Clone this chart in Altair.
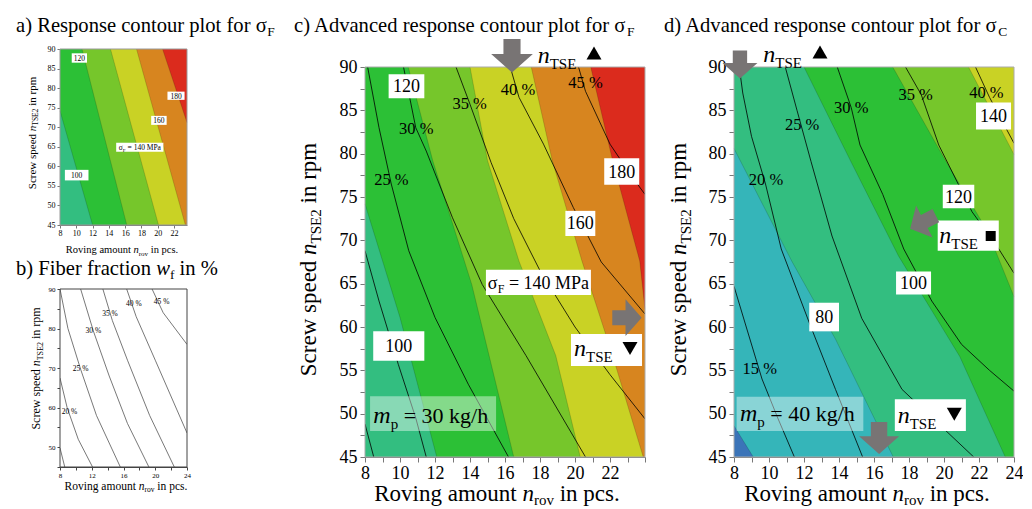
import altair as alt
import pandas as pd

SERIF = "Liberation Serif"

# ---------------- values ----------------
A_X_TICKS = [8, 10, 12, 14, 16, 18, 20, 22]
A_Y_TICKS = [45, 50, 55, 60, 65, 70, 75, 80, 85, 90]
B_X_TICKS = [8, 10, 12, 14, 16, 18, 20, 22, 24]
B_Y_TICKS = [45, 50, 55, 60, 65, 70, 75, 80, 85, 90]
CD_X_TICKS = [8, 9, 10, 11, 12, 13, 14, 15, 16, 17, 18, 19, 20, 21, 22, 23, 24]
CD_Y_TICKS = [45, 47.5, 50, 52.5, 55, 57.5, 60, 62.5, 65, 67.5, 70, 72.5, 75,
              77.5, 80, 82.5, 85, 87.5, 90]

# band boundaries (n_rov, n_TSE2); the next band lies right of the boundary
A_B100 = [(8, 90), (8, 74.2), (12.0, 45)]
A_B120 = [(10.7, 90), (16.2, 45)]
A_B140 = [(14.2, 90), (20.1, 45)]
A_B160 = [(17.4, 90), (23.4, 45)]
A_B180 = [(20.6, 90), (23.6, 71.2)]

C_B100 = [(8, 90), (8, 74.2), (10.0, 61.1), (12.1, 45)]
C_B120 = [(10.47, 90), (11.87, 79.2), (14.1, 64.9), (16.5, 45)]
C_B140 = [(14.0, 90), (15.0, 79.2), (16.8, 67.6), (18.9, 56.7), (20.3, 45)]
C_B160 = [(17.5, 90), (18.7, 79.2), (20.4, 67.6), (22.15, 56.7), (23.9, 45)]
C_B180 = [(20.9, 90), (22.15, 79.2), (23.7, 67.6), (24, 62)]

D_B60 = [(8, 90), (8, 48.6), (9.1, 45)]
D_B80 = [(8, 90), (8, 80.6), (11.3, 67.6), (13.8, 58.6), (17.1, 45)]
D_B100 = [(12.0, 90), (14.7, 79), (17.4, 68.2), (20.9, 56.6), (23.5, 45)]
D_B120 = [(17.07, 90), (20, 79.5), (22.5, 71), (24, 63.5)]
D_B140 = [(21.4, 90), (24, 79.9)]

# fibre fraction contour lines
B_WF = {
    "15": [(8, 49.8), (8.6, 45)],
    "20": [(8, 67.5), (8.9, 60), (10.3, 52), (12.1, 45)],
    "25": [(8.0, 90), (9.0, 80), (10.6, 69.7), (12.6, 58), (15.6, 45)],
    "30": [(10.6, 90), (12.2, 79.4), (14.2, 68), (16.5, 56), (19.2, 45)],
    "35": [(13.4, 90), (14.6, 82), (16.5, 72), (19.3, 58), (22.4, 45)],
    "40": [(16.4, 90), (17.6, 83), (20, 72), (24, 53.6)],
    "45": [(19.6, 90), (21, 84), (24, 76)],
}
C_WF = {
    "15": [(8, 48.8), (8.5, 45)],
    "20": [(8, 68.8), (8.8, 63), (9.9, 55.7), (10.9, 49.5), (11.5, 45)],
    "25": [(8.15, 90), (8.8, 83), (9.5, 76.5), (10.5, 68.8), (12.0, 61.1), (13.9, 53.4), (16.2, 45)],
    "30": [(10.2, 90), (10.9, 83), (11.5, 80.3), (13.0, 72.6), (14.7, 64.9), (17.2, 56.7), (20.6, 45)],
    "35": [(13.2, 90), (14.0, 85.7), (15.2, 79), (16.5, 72.5), (18.0, 66.5), (20.0, 60), (22.0, 54.5), (24, 49.4)],
    "40": [(16.3, 90), (16.8, 86.5), (18.2, 81.1), (19.9, 73.8), (21.5, 67.5), (24, 61.5)],
    "45": [(20.2, 90), (20.6, 87.2), (22.0, 81.1), (23.2, 77.5), (24, 75.3)],
}
D_WF = {
    "15": [(8, 64.7), (8.7, 60), (9.6, 54), (10.5, 49.5), (11.45, 45)],
    "20": [(8.3, 90), (8.5, 87), (9.0, 82), (9.8, 76.5), (10.7, 69), (12.3, 60.5), (13.8, 52.8), (15.35, 45)],
    "25": [(10.93, 90), (11.6, 85), (12.4, 79.1), (13.6, 70.5), (15.3, 61), (17.6, 52.8), (21.7, 45)],
    "30": [(13.9, 90), (14.7, 85.3), (15.2, 81), (16.5, 75.3), (17.7, 69), (19.3, 63), (21.0, 58), (22.6, 55), (24, 52.6)],
    "35": [(17.8, 90), (18.7, 86.8), (19.7, 81), (21.6, 73.3), (23.1, 69.1), (24, 66.2)],
    "40": [(21.8, 90), (22.6, 86.5), (24, 81.2)],
}

# text labels: (n_rov, n_TSE2, text)
B_PCT = [(9.2, 59, "20 %"), (10.6, 69.7, "25 %"), (12.2, 79.4, "30 %"),
         (14.3, 83.8, "35 %"), (17.3, 86.1, "40 %"), (20.8, 86.6, "45 %")]
C_PCT = [(9.51, 77.0, "25 %"), (10.93, 82.8, "30 %"), (13.98, 85.7, "35 %"),
         (16.74, 87.4, "40 %"), (20.6, 88.1, "45 %")]
D_PCT = [(9.47, 55.1, "15 %"), (9.83, 77.0, "20 %"), (11.89, 83.3, "25 %"),
         (14.70, 85.3, "30 %"), (18.38, 86.8, "35 %"), (22.42, 87.0, "40 %")]

# white label boxes: (x1, x2, y1, y2, text)
A_BOX = [(9.44, 11.32, 86.5, 88.9, "120"), (21.2, 23.3, 77.0, 79.1, "180"),
         (19.2, 21.1, 70.6, 72.9, "160"), (14.9, 20.7, 63.7, 66.0, ""),
         (8.6, 11.5, 56.4, 59.1, "100")]
C_BOX = [(9.35, 11.39, 86.4, 89.16, "120"), (21.67, 23.67, 76.4, 79.46, "180"),
         (19.45, 21.16, 70.5, 73.4, "160"), (14.91, 20.91, 63.7, 66.6, ""),
         (8.47, 11.39, 56.1, 59.5, "100"), (19.77, 23.83, 55.5, 59.2, "")]
D_BOX = [(21.83, 23.83, 82.8, 85.9, "140"), (19.93, 21.73, 73.7, 76.4, "120"),
         (19.64, 23.13, 68.8, 72.3, ""), (17.26, 19.26, 63.75, 66.4, "100"),
         (12.3, 14.0, 59.5, 62.8, "80"), (17.19, 21.25, 48.0, 51.65, "")]
C_MP_BOX = [(8.29, 15.49, 48.0, 52.0)]
D_MP_BOX = [(8.15, 15.39, 48.0, 51.95)]

# grey arrows: (n_rov, n_TSE2, rotation)
C_ARROWS = [(16.4, 91.3, 0), (22.97, 61.07, 270)]
D_ARROWS = [(8.34, 90.3, 0), (16.29, 47.2, 0), (18.8, 72.1, 63)]

# ---------------- styles ----------------
TEAL, GREEN, LGREEN = "#33BE80", "#2CC036", "#76C62B"
YELLOW, ORANGE, RED = "#C9D225", "#D7851F", "#DB2B1D"
CYAN, BLUE = "#35B5B9", "#3B74B8"
GREY_ARROW = "#787474"
ARROW = "M-0.41,-0.8 L0.41,-0.8 L0.41,-0.08 L1,-0.08 L0,0.8 L-1,-0.08 L-0.41,-0.08 Z"
TITLE = 20.6

ONE = pd.DataFrame({"k": [0]})

TW = {' ': 250, '%': 833, '(': 333, ')': 333, '.': 250, '/': 278, '=': 564,
      'A': 722, 'C': 667, 'E': 611, 'F': 556, 'M': 889, 'P': 556, 'R': 667, 'S': 556, 'T': 611,
      'a': 444, 'b': 500, 'c': 444, 'd': 500, 'e': 444, 'f': 333, 'g': 500, 'h': 500, 'i': 278,
      'k': 500, 'l': 278, 'm': 778, 'n': 500, 'o': 500, 'p': 500, 'r': 333, 's': 389, 't': 278,
      'u': 500, 'v': 500, 'w': 722, 'σ': 560}
TWI = {'n': 500, 'm': 722, 'w': 667, 'p': 500}


def text_w(t, size, style):
    tot = 0
    for ch in t:
        if style == "italic" and ch in TWI:
            tot += TWI[ch]
        elif ch.isdigit():
            tot += 500
        else:
            tot += TW.get(ch, 500)
    return tot * size / 1000.0


def piece(t, px, py, size, style, angle):
    lead = len(t) - len(t.lstrip(" "))
    adv = lead * 250 * size / 1000.0
    if angle == 0:
        px += adv
    else:
        py -= adv
    return alt.Chart(ONE).mark_text(
        text=t.strip(" "), font=SERIF, fontSize=size, fontStyle=style, align="left",
        baseline="alphabetic", angle=angle, color="black"
    ).encode(x=alt.value(px), y=alt.value(py))


def rich(pieces, x, y, align="left", angle=0):
    full = [(p + (0,)) if len(p) == 3 else p for p in pieces]
    widths = [text_w(t, s, st) for (t, s, st, sh) in full]
    total = sum(widths)
    off = {"left": 0, "center": -total / 2, "right": -total}[align]
    out = []
    for (t, s, st, sh), w in zip(full, widths):
        if angle == 0:
            out.append(piece(t, x + off, y + sh, s, st, 0))
        else:
            out.append(piece(t, x + sh, y - off, s, st, angle))
        off += w
    return out


def sym(shape, x, y, size, color="black"):
    return alt.Chart(ONE).mark_point(shape=shape, filled=True, color=color, size=size,
                                     opacity=1, strokeWidth=0).encode(
        x=alt.value(x), y=alt.value(y))


def panel(xmax, w, h, yr, base, bands, wf, wf_color, xaxis, yaxis, frame_color,
          pct=None, pct_size=16, boxes=None, box_size=18, mp_box=None, arrows=None):
    xs = alt.Scale(domain=[8, xmax], range=[0, w], nice=False, zero=False)
    ys = alt.Scale(domain=[45, 90], range=yr, nice=False, zero=False)

    def X(f):
        return alt.X(f, type="quantitative", scale=xs, axis=xaxis, stack=None)

    def Y(f):
        return alt.Y(f, type="quantitative", scale=ys, axis=yaxis, stack=None)

    layers = []
    df0 = pd.DataFrame({"x": [8, 8], "y": [90, 45], "xr": [xmax, xmax]})
    layers.append(alt.Chart(df0).mark_area(orient="horizontal", color=base).encode(
        y=Y("y"), x=X("x"), x2="xr:Q"))
    lines = []
    for gi, (col, pts) in enumerate(bands):
        df = pd.DataFrame(pts, columns=["x", "y"])
        df["xr"] = xmax
        layers.append(alt.Chart(df).mark_area(orient="horizontal", color=col).encode(
            y=Y("y"), x=X("x"), x2="xr:Q"))
        p2 = list(pts)
        while len(p2) > 2 and p2[0][0] == 8 and p2[1][0] == 8:
            p2 = p2[1:]
        for i, (x, y) in enumerate(p2):
            lines.append({"x": x, "y": y, "i": i, "g": gi})
    if lines:
        layers.append(alt.Chart(pd.DataFrame(lines)).mark_line(
            color="#000000", opacity=0.22, strokeWidth=0.7).encode(
            x=X("x"), y=Y("y"), detail="g:N", order="i:Q"))
    rows = []
    for k, pts in wf.items():
        for i, (x, y) in enumerate(pts):
            rows.append({"x": x, "y": y, "i": i, "g": k})
    if rows:
        layers.append(alt.Chart(pd.DataFrame(rows)).mark_line(
            color=wf_color, strokeWidth=0.8, clip=True).encode(
            x=X("x"), y=Y("y"), detail="g:N", order="i:Q"))
    fr = pd.DataFrame({"x1": [8], "x2": [xmax], "y1": [45], "y2": [90]})
    layers.append(alt.Chart(fr).mark_rect(fillOpacity=0, stroke=frame_color, strokeWidth=1).encode(
        x=X("x1"), x2="x2:Q", y=Y("y1"), y2="y2:Q"))
    if pct:
        dfp = pd.DataFrame(pct, columns=["x", "y", "t"])
        layers.append(alt.Chart(dfp).mark_text(font=SERIF, fontSize=pct_size, color="black",
                                               baseline="middle", align="center").encode(
            x=X("x"), y=Y("y"), text="t:N"))
    if mp_box:
        dfm = pd.DataFrame(mp_box, columns=["x1", "x2", "y1", "y2"])
        layers.append(alt.Chart(dfm).mark_rect(color="white", opacity=0.42).encode(
            x=X("x1"), x2="x2:Q", y=Y("y1"), y2="y2:Q"))
    if boxes:
        dfb = pd.DataFrame(boxes, columns=["x1", "x2", "y1", "y2", "t"])
        dfb["xc"] = (dfb.x1 + dfb.x2) / 2
        dfb["yc"] = (dfb.y1 + dfb.y2) / 2
        layers.append(alt.Chart(dfb).mark_rect(color="white").encode(
            x=X("x1"), x2="x2:Q", y=Y("y1"), y2="y2:Q"))
        layers.append(alt.Chart(dfb).mark_text(font=SERIF, fontSize=box_size, color="black",
                                               baseline="middle", align="center", dy=1).encode(
            x=X("xc"), y=Y("yc"), text="t:N"))
    if arrows:
        for (x, y, ang), sz in arrows:
            d = pd.DataFrame({"x": [x], "y": [y]})
            layers.append(alt.Chart(d).mark_point(shape=ARROW, filled=True, color=GREY_ARROW,
                                                  opacity=1, size=sz, angle=ang, strokeWidth=0).encode(
                x=X("x"), y=Y("y")))
    return layers


def make_axis(values, size, expr=None, tick=5, pad=3, color="#777777"):
    kw = dict(values=values, title=None, grid=False, labelFont=SERIF, labelFontSize=size,
              labelColor="black", tickColor=color, domainColor=color, tickSize=tick,
              labelPadding=pad, labelFlush=False, labelOverlap=False)
    if expr:
        kw["labelExpr"] = expr
    return alt.Axis(**kw)


# ---------------- panel a ----------------
AW, AH, AXM = 127, 176, 23.6
a_layers = panel(AXM, AW, AH, [AH, 0], TEAL,
                 [(GREEN, A_B100), (LGREEN, A_B120), (YELLOW, A_B140), (ORANGE, A_B160), (RED, A_B180)],
                 {}, "black",
                 make_axis(A_X_TICKS, 8, tick=3, pad=1), make_axis(A_Y_TICKS, 8, tick=3, pad=2),
                 "#999999", boxes=A_BOX, box_size=7.5)
a_layers += rich([("σ", 7.5, "normal"), ("F", 5, "normal", 1.5), (" = 140 MPa", 7.5, "normal")],
                 79.8, 101.0, "center")
a_layers += rich([("a) Response contour plot for σ", TITLE, "normal"), ("F", 13.5, "normal", 4)], -44, -17)
a_layers += rich([("Roving amount ", 10.5, "normal"), ("n", 10.5, "italic"), ("rov", 7, "normal", 2.5),
                  (" in pcs.", 10.5, "normal")], 62, 204, "center")
a_layers += rich([("Screw speed ", 11, "normal"), ("n", 11, "italic"), ("TSE2", 7.5, "normal", 2.5),
                  (" in rpm", 11, "normal")], -24.5, 84, "center", 270)
a_layers.append(alt.Chart(ONE).mark_rule(color="white", strokeWidth=0.5).encode(
    x=alt.value(-59), x2=alt.value(-58.5), y=alt.value(-48), y2=alt.value(-48)))
A = alt.layer(*a_layers).properties(width=AW, height=AH)

# ---------------- panel b ----------------
BW, BH = 127, 178
b_layers = panel(24, BW, BH, [BH, 0], "white", [], B_WF, "#555555",
                 make_axis(B_X_TICKS, 7, "datum.value % 4 == 0 ? datum.label : ''", tick=3, pad=1, color="#444444"),
                 make_axis(B_Y_TICKS, 7, "datum.value % 10 == 0 ? datum.label : ''", tick=3, pad=2, color="#444444"),
                 "#444444", pct=B_PCT, pct_size=7.5)
b_layers += rich([("b) Fiber fraction ", TITLE, "normal"), ("w", TITLE, "italic"), ("f", 13.5, "normal", 4),
                  (" in %", TITLE, "normal")], -44, -14)
b_layers += rich([("Roving amount ", 11.5, "normal"), ("n", 11.5, "italic"), ("rov", 7.5, "normal", 2.5),
                  (" in pcs.", 11.5, "normal")], 66, 200.5, "center")
b_layers += rich([("Screw speed ", 12, "normal"), ("n", 12, "italic"), ("TSE2", 8, "normal", 2.5),
                  (" in rpm", 12, "normal")], -20, 79.5, "center", 270)
B = alt.layer(*b_layers).properties(width=BW, height=BH)

# ---------------- panel c ----------------
CW, CH = 280, 408
c_layers = panel(24, CW, CH, [CH, 18], TEAL,
                 [(GREEN, C_B100), (LGREEN, C_B120), (YELLOW, C_B140), (ORANGE, C_B160), (RED, C_B180)],
                 C_WF, "black",
                 make_axis(CD_X_TICKS, 18, "datum.value % 2 == 0 && datum.value < 23 ? datum.label : ''", tick=5, pad=2),
                 make_axis(CD_Y_TICKS, 18, "datum.value % 5 == 0 ? datum.label : ''", tick=5, pad=3),
                 "#aaaaaa", pct=C_PCT, pct_size=16.5, boxes=C_BOX, box_size=18, mp_box=C_MP_BOX,
                 arrows=[(C_ARROWS[0], 1740), (C_ARROWS[1], 1350)])
c_layers += rich([("σ", 18, "normal"), ("F", 12, "normal", 4), (" = 140 MPa", 18, "normal")],
                 173.4, 239.5, "center")
c_layers += rich([("n", 24, "italic"), ("TSE", 15, "normal", 6)], 209, 307)
c_layers.append(sym("triangle-down", 265, 299.5, 225))
c_layers += rich([("m", 24, "italic"), ("p", 15, "normal", 6), (" = 30 kg/h", 22, "normal")], 8.3, 373.7)
c_layers += rich([("n", 24, "italic"), ("TSE", 15, "normal", 6)], 172.7, 13.7)
c_layers.append(sym("triangle-up", 229, 4, 225))
c_layers += rich([("c) Advanced response contour plot for σ", TITLE, "normal"), ("F", 13.5, "normal", 4)], -71, -17)
c_layers += rich([("Roving amount ", 23, "normal"), ("n", 23, "italic"), ("rov", 15, "normal", 4),
                  (" in pcs.", 23, "normal")], 132, 452, "center")
c_layers += rich([("Screw speed ", 23, "normal"), ("n", 23, "italic"), ("TSE2", 15, "normal", 5),
                  (" in rpm", 23, "normal")], -49, 210.5, "center", 270)
C = alt.layer(*c_layers).properties(width=CW, height=CH)

# ---------------- panel d ----------------
d_layers = panel(24, CW, CH, [CH, 18], BLUE,
                 [(CYAN, D_B60), (TEAL, D_B80), (GREEN, D_B100), (LGREEN, D_B120), (YELLOW, D_B140)],
                 D_WF, "black",
                 make_axis(CD_X_TICKS, 18, "datum.value % 2 == 0 ? datum.label : ''", tick=5, pad=2),
                 make_axis(CD_Y_TICKS, 18, "datum.value % 5 == 0 ? datum.label : ''", tick=5, pad=3),
                 "#aaaaaa", pct=D_PCT, pct_size=16.5, boxes=D_BOX, box_size=18, mp_box=D_MP_BOX,
                 arrows=[(D_ARROWS[0], 1225), (D_ARROWS[1], 1600), (D_ARROWS[2], 1300)])
d_layers += rich([("n", 24, "italic"), ("TSE", 15, "normal", 6)], 205.3, 193.7)
d_layers.append(sym("square", 256.7, 187, 100))
d_layers += rich([("n", 24, "italic"), ("TSE", 15, "normal", 6)], 163.7, 373.7)
d_layers.append(sym("triangle-down", 220.3, 365.3, 225))
d_layers += rich([("m", 24, "italic"), ("p", 15, "normal", 6), (" = 40 kg/h", 22, "normal")], 6, 372)
d_layers += rich([("n", 24, "italic"), ("TSE", 15, "normal", 6)], 29.3, 12.7)
d_layers.append(sym("triangle-up", 86, 3, 225))
d_layers += rich([("d) Advanced response contour plot for σ", TITLE, "normal"), ("C", 13.5, "normal", 4)], -70, -17)
d_layers += rich([("Roving amount ", 23, "normal"), ("n", 23, "italic"), ("rov", 15, "normal", 4),
                  (" in pcs.", 23, "normal")], 133, 452, "center")
d_layers += rich([("Screw speed ", 23, "normal"), ("n", 23, "italic"), ("TSE2", 15, "normal", 5),
                  (" in rpm", 23, "normal")], -48, 210.5, "center", 270)
D = alt.layer(*d_layers).properties(width=CW, height=CH)

left = alt.vconcat(A, B, spacing=64, bounds="flush")
right = alt.hconcat(C, D, spacing=89, bounds="flush")
chart = alt.hconcat(left, right, spacing=305, bounds="flush").properties(
    padding=0, background="white").configure_view(stroke=None)

chart.save("out.html", embed_options={"renderer": "svg", "actions": False})
